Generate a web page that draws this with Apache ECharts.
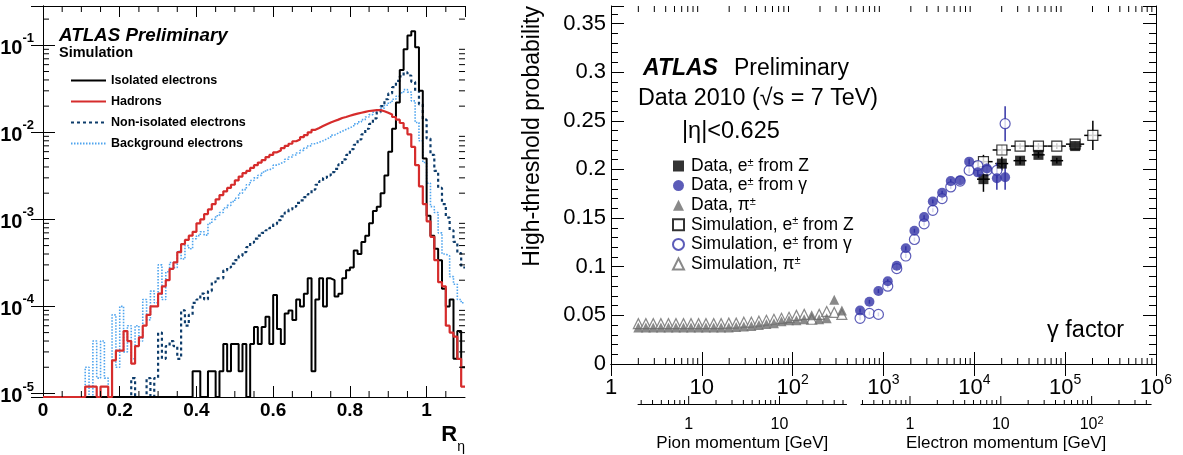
<!DOCTYPE html>
<html>
<head>
<meta charset="utf-8">
<script src="https://cdn.jsdelivr.net/npm/echarts@6.0.0/dist/echarts.min.js"></script>
<style>
html,body{margin:0;padding:0;background:#ffffff;}
#chart{width:1183px;height:455px;}
</style>
</head>
<body>
<div id="chart"></div>
<script>
// ================= LEFT PANEL: R_eta distributions =================
const rEtaBinWidth = 0.01;
const rEtaRange = [0, 1.1];
const rEtaTitle = 'R';
const leftLegendNames = ['Isolated electrons', 'Hadrons', 'Non-isolated electrons', 'Background electrons'];

const isolatedElectrons = [
  0,0,0,0,0,0,0,0,0,0,
  0,0,0,0,0,0,0,0,0,0,
  0,0,0,0,0,0,0,0,0,0,
  0,0,0,0,0,0,0,0,0,1.8e-5,
  1.8e-5,0,0,1.8e-5,1.8e-5,0,1.8e-5,3.7e-5,1.8e-5,3.7e-5,
  3.7e-5,1.8e-5,3.7e-5,0,3.7e-5,5.8e-5,3.7e-5,5.8e-5,7.6e-5,3.7e-5,
  1.35e-4,5.5e-5,3.7e-5,8.3e-5,9e-5,7e-5,1.2e-4,1.0e-4,1.4e-4,2.1e-4,
  1.8e-5,1.2e-4,2.1e-4,1.0e-4,2.1e-4,2.0e-4,1.3e-4,1.4e-4,2.1e-4,2.6e-4,
  2.8e-4,4.4e-4,4.0e-4,5.5e-4,6.5e-4,9e-4,1.25e-3,1.4e-3,2.0e-3,3.2e-3,
  6e-3,1.1e-2,2.2e-2,5.2e-2,9e-2,1.3e-1,1.45e-1,9.5e-2,3e-2,5e-3,
  1.1e-3,6.5e-4,4.6e-4,3.4e-4,1.6e-4,1.0e-4,1.2e-4,2.5e-5,5.2e-5,2e-5
];
const hadrons = [
  0,0,0,0,0,0,0,0,0,0,
  0,1.2e-5,1.2e-5,1.2e-5,0,1.2e-5,1.2e-5,0,2.4e-5,3.1e-5,
  3.1e-5,5.2e-5,4.0e-5,2.2e-5,3.5e-5,4.4e-5,6.0e-5,8.0e-5,1.0e-4,1.0e-4,
  1.4e-4,1.7e-4,2.0e-4,2.7e-4,3.2e-4,4.2e-4,5.2e-4,5.8e-4,6.5e-4,7.2e-4,
  9.0e-4,1.0e-3,1.15e-3,1.3e-3,1.5e-3,1.7e-3,1.9e-3,2.1e-3,2.3e-3,2.5e-3,
  2.8e-3,3.1e-3,3.4e-3,3.6e-3,3.9e-3,4.2e-3,4.5e-3,4.8e-3,5.2e-3,5.5e-3,
  5.9e-3,6.2e-3,6.6e-3,7.0e-3,7.4e-3,7.9e-3,8.3e-3,8.8e-3,9.3e-3,1.0e-2,
  1.07e-2,1.12e-2,1.18e-2,1.24e-2,1.3e-2,1.35e-2,1.4e-2,1.46e-2,1.5e-2,1.55e-2,
  1.6e-2,1.64e-2,1.68e-2,1.72e-2,1.76e-2,1.78e-2,1.8e-2,1.8e-2,1.75e-2,1.68e-2,
  1.6e-2,1.5e-2,1.4e-2,1.28e-2,1.12e-2,9.5e-3,6.8e-3,4.2e-3,2.4e-3,1.5e-3,
  9.5e-4,6.3e-4,3.4e-4,1.9e-4,1.7e-4,6e-5,5e-5,4.5e-5,2.5e-5,1.2e-5
];
const nonIsolatedElectrons = [
  0,0,0,0,0,0,0,0,0,0,
  0,0,0,0,0,0,0,0,0,0,
  0,0,0,1.5e-5,0,0,0,1.5e-5,0,1.5e-5,
  5e-5,2.5e-5,3.5e-5,4e-5,3.5e-5,2.5e-5,9e-5,6e-5,8e-5,1.1e-4,
  1.2e-4,1.4e-4,1.2e-4,1.5e-4,1.9e-4,2.1e-4,2.1e-4,2.6e-4,2.8e-4,3.1e-4,
  3.4e-4,3.8e-4,4.2e-4,4.8e-4,5.4e-4,6e-4,6.5e-4,7e-4,7.5e-4,8e-4,
  8.8e-4,9.8e-4,1.08e-3,1.2e-3,1.3e-3,1.4e-3,1.55e-3,1.65e-3,1.8e-3,1.95e-3,
  2.2e-3,2.5e-3,2.75e-3,3.0e-3,3.2e-3,3.5e-3,3.8e-3,4.3e-3,4.9e-3,5.5e-3,
  6.4e-3,7.2e-3,8.3e-3,9.5e-3,1.1e-2,1.25e-2,1.45e-2,1.7e-2,2.0e-2,2.4e-2,
  2.8e-2,3.3e-2,3.9e-2,4.4e-2,4.9e-2,4.5e-2,3.8e-2,3.0e-2,2.1e-2,1.4e-2,
  8.5e-3,5.5e-3,3.6e-3,2.3e-3,1.5e-3,1.05e-3,7.5e-4,5.5e-4,4.1e-4,2.8e-4
];
const backgroundElectrons = [
  0,0,0,0,0,0,0,0,0,0,
  0,2e-5,0,4e-5,1.5e-5,4e-5,1.5e-5,0,8e-5,2e-5,
  1e-4,3e-5,6e-5,2.5e-5,6e-5,4e-5,1.2e-4,7e-5,1.5e-4,1.1e-4,
  3e-4,1.2e-4,2.5e-4,3.2e-4,2.8e-4,4.3e-4,3.5e-4,5e-4,4.6e-4,6e-4,
  6.5e-4,7.2e-4,6.6e-4,9e-4,1.0e-3,1.1e-3,1.2e-3,1.35e-3,1.45e-3,1.6e-3,
  1.75e-3,2.0e-3,2.2e-3,2.5e-3,2.8e-3,3.0e-3,3.2e-3,3.5e-3,3.7e-3,3.9e-3,
  4.2e-3,4.4e-3,4.6e-3,4.9e-3,5.2e-3,5.5e-3,5.8e-3,6.2e-3,6.6e-3,7.0e-3,
  7.4e-3,7.7e-3,8.0e-3,8.4e-3,8.8e-3,9.3e-3,9.8e-3,1.03e-2,1.08e-2,1.13e-2,
  1.18e-2,1.25e-2,1.32e-2,1.4e-2,1.5e-2,1.6e-2,1.7e-2,1.8e-2,1.9e-2,2.05e-2,
  2.2e-2,2.4e-2,2.6e-2,2.85e-2,3.1e-2,2.9e-2,2.3e-2,1.3e-2,8e-3,4.5e-3,
  2.6e-3,1.4e-3,1.2e-3,7e-4,4e-4,3.8e-4,2.2e-4,1.8e-4,1.2e-4,1.1e-4
];

// ================= RIGHT PANEL: TRT high-threshold probability =================
const pionGamma = [2.0,2.42,2.92,3.54,4.29,5.19,6.28,7.6,9.2,11.1,13.5,16.3,19.8,23.9,
                   29.0,35.1,42.5,51.4,62.2,75.3,91.2,110,134,162,196,237,287,348];
const dataPion = [0.0375,0.0375,0.0375,0.0375,0.0375,0.0375,0.0375,0.0375,0.0375,0.0375,0.0375,0.0375,0.0375,
                  0.038,0.0385,0.039,0.040,0.041,0.042,0.044,0.045,0.045,0.046,0.050,0.046,0.047,0.066,0.055];
const simPion  = [0.0415,0.0415,0.0415,0.0415,0.0415,0.0415,0.0415,0.0415,0.0415,0.0415,0.0415,0.0415,
                  0.042,0.042,0.043,0.043,0.044,0.045,0.046,0.047,0.048,0.050,0.051,0.046,0.051,0.054,0.053,0.051];

const convGamma = [552,700,879,1114,1400,1760,2190,2800,3490,4420,5500,6980,8770,10920,13750,17700,21830];
const dataConv    = [0.055,0.064,0.075,0.085,0.101,0.119,0.137,0.151,0.167,0.176,0.188,0.189,0.208,0.197,0.201,0.191,0.192];
const dataConvErr = [0.002,0.002,0.002,0.002,0.002,0.002,0.002,0.002,0.002,0.002,0.002,0.002,0.003,0.004,0.006,0.012,0.013];
const simConv     = [0.047,0.052,0.051,0.080,0.098,0.111,0.128,0.144,0.158,0.170,0.182,0.188,0.199,0.204,0.199,0.199,0.247];
const simConvErr  = [0.002,0.002,0.002,0.002,0.002,0.002,0.002,0.002,0.002,0.002,0.002,0.002,0.003,0.004,0.006,0.008,0.018];

const zGammaData   = [12600,20100,31900,50800,80900,128800];
const dataZ        = [0.190,0.206,0.209,0.215,0.209,0.224];
const dataZErr     = [0.013,0.007,0.004,0.003,0.003,0.003];
const dataZGammaLo = [10700,17000,27000,43000,69000,110000];
const dataZGammaHi = [14800,23600,37500,59500,95000,151000];

const zGammaSim    = [12600,20100,31900,50800,80900,128800,201700];
const simZ         = [0.208,0.220,0.224,0.224,0.224,0.226,0.235];
const simZErr      = [0.007,0.005,0.003,0.003,0.003,0.003,0.015];
const simZGammaLo  = [10000,15900,25300,40300,64200,102000,162000];
const simZGammaHi  = [15900,25300,40300,64200,102000,162000,251000];

const rightLegendNames = ['Data, e± from Z','Data, e± from γ','Data, π±',
                          'Simulation, e± from Z','Simulation, e± from γ','Simulation, π±'];
const pionMass = 0.13957, electronMass = 0.000511;   // GeV
const pionMomRange = [0.277, 54.7];                  // GeV
const electronMomRange = [0.289, 452];               // GeV

// ================= LAYOUT / STYLE =================
const FONT = '"Liberation Sans", Arial, Helvetica, sans-serif';
const INK = '#000000';
const RED = '#d62c2c', DKBLUE = '#0d3c6b', LTBLUE = '#4ea4ee';
const BLUE = '#3333a6', GREY = '#6b6b6b';

const gL = {left: 43, top: 6, width: 422, height: 391};
const gR = {left: 611, top: 6, width: 545, height: 358};
const yLRange = [9.1e-6, 0.283];
const xRRange = [1, 1e6];
const yRRange = [0, 0.368];

function momentumGrid(range, mass) {
  const span = Math.log10(xRRange[1]) - Math.log10(xRRange[0]);
  const a = Math.log10(range[0] / mass), b = Math.log10(range[1] / mass);
  return {left: gR.left + gR.width * a / span, width: gR.width * (b - a) / span, top: 394, height: 10};
}

function logTicks(lo, hi) {  // [value, 0, isMajor]
  const out = [];
  for (let k = Math.floor(Math.log10(lo)); k <= Math.ceil(Math.log10(hi)); k++) {
    for (let m = 1; m <= 9; m++) {
      const v = m * Math.pow(10, k);
      if (v >= lo * 0.9999 && v <= hi * 1.0001) out.push([v, 0, m === 1 ? 1 : 0]);
    }
  }
  return out;
}

function histData(vals) {
  const pts = vals.map((v, i) => [rEtaRange[0] + i * rEtaBinWidth, Math.max(v, yLRange[0])]);
  pts.push([rEtaRange[1], Math.max(vals[vals.length - 1], yLRange[0])]);
  return pts;
}

function decadeLabel(v, plainUpTo) {
  const e = Math.log10(v), r = Math.round(e);
  if (Math.abs(e - r) > 1e-6) return '';
  if (r <= plainUpTo) return '{m|' + Math.pow(10, r) + '}';
  return '{m|10}{p|' + r + '}';
}

const lineTick = (x1, y1, x2, y2, w) => ({type: 'line', shape: {x1, y1, x2, y2}, style: {stroke: INK, lineWidth: w || 1}});

function errorBars(color) {
  return (params, api) => {
    const x = api.value(0), y = api.value(1);
    const a = api.coord([api.value(2), y]), b = api.coord([api.value(3), y]);
    const c = api.coord([x, api.value(4)]), d = api.coord([x, api.value(5)]);
    return {type: 'group', children: [
      {type: 'line', shape: {x1: a[0], y1: a[1], x2: b[0], y2: b[1]}, style: {stroke: color, lineWidth: 1.5}},
      {type: 'line', shape: {x1: c[0], y1: c[1], x2: d[0], y2: d[1]}, style: {stroke: color, lineWidth: 1.5}}
    ]};
  };
}

const pionGrid = momentumGrid(pionMomRange, pionMass);
const elecGrid = momentumGrid(electronMomRange, electronMass);

const axisLineStyle = {show: true, lineStyle: {color: INK, width: 1}};
const noLabel = {show: false};
const openMarker = c => ({color: '#ffffff', borderColor: c, borderWidth: 1.2});

const option = {
  animation: false,
  backgroundColor: '#ffffff',
  grid: [
    Object.assign({containLabel: false, outerBoundsMode: 'none'}, gL),
    Object.assign({containLabel: false, outerBoundsMode: 'none'}, gR),
    Object.assign({containLabel: false, outerBoundsMode: 'none'}, pionGrid),
    Object.assign({containLabel: false, outerBoundsMode: 'none'}, elecGrid)
  ],
  xAxis: [
    {gridIndex: 0, type: 'value', min: rEtaRange[0], max: rEtaRange[1], interval: 0.2, position: 'bottom',
     axisLine: axisLineStyle, axisTick: {inside: true, length: 11, lineStyle: {color: INK}}, splitLine: {show: false},
     axisLabel: {showMaxLabel: false, margin: 4, color: INK, fontSize: 19, fontWeight: 'bold', fontFamily: FONT}},
    {gridIndex: 0, type: 'value', min: rEtaRange[0], max: rEtaRange[1], interval: 0.2, position: 'top',
     axisLine: axisLineStyle, axisTick: {inside: true, length: 11, lineStyle: {color: INK}}, splitLine: {show: false}, axisLabel: noLabel},
    {gridIndex: 1, type: 'log', min: xRRange[0], max: xRRange[1], position: 'bottom',
     axisLine: axisLineStyle, axisTick: {inside: true, length: 12, lineStyle: {color: INK}}, splitLine: {show: false},
     axisLabel: {margin: 9, color: INK, fontFamily: FONT, formatter: v => decadeLabel(v, 1),
       rich: {m: {fontSize: 22, fontFamily: FONT, color: INK, lineHeight: 26, verticalAlign: 'bottom'},
              p: {fontSize: 14, fontFamily: FONT, color: INK, lineHeight: 14, verticalAlign: 'top'}}}},
    {gridIndex: 1, type: 'log', min: xRRange[0], max: xRRange[1], position: 'top',
     axisLine: axisLineStyle, axisTick: {inside: true, length: 12, lineStyle: {color: INK}}, splitLine: {show: false}, axisLabel: noLabel},
    {gridIndex: 2, type: 'log', min: pionMomRange[0], max: pionMomRange[1], position: 'bottom',
     axisLine: axisLineStyle, axisTick: {show: false}, splitLine: {show: false},
     name: 'Pion momentum [GeV]', nameLocation: 'middle', nameGap: 31,
     nameTextStyle: {fontSize: 17, fontFamily: FONT, color: INK},
     axisLabel: {margin: 11, showMinLabel: false, showMaxLabel: false, formatter: v => decadeLabel(v, 1),
       rich: {m: {fontSize: 16, fontFamily: FONT, color: INK, lineHeight: 18, verticalAlign: 'bottom'},
              p: {fontSize: 11, fontFamily: FONT, color: INK, lineHeight: 11, verticalAlign: 'top'}}}},
    {gridIndex: 3, type: 'log', min: electronMomRange[0], max: electronMomRange[1], position: 'bottom',
     axisLine: axisLineStyle, axisTick: {show: false}, splitLine: {show: false},
     name: 'Electron momentum [GeV]', nameLocation: 'middle', nameGap: 31,
     nameTextStyle: {fontSize: 17, fontFamily: FONT, color: INK},
     axisLabel: {margin: 11, showMinLabel: false, showMaxLabel: false, formatter: v => decadeLabel(v, 1),
       rich: {m: {fontSize: 16, fontFamily: FONT, color: INK, lineHeight: 18, verticalAlign: 'bottom'},
              p: {fontSize: 11, fontFamily: FONT, color: INK, lineHeight: 11, verticalAlign: 'top'}}}}
  ],
  yAxis: [
    {gridIndex: 0, type: 'log', min: yLRange[0], max: yLRange[1], position: 'left',
     axisLine: axisLineStyle, axisTick: {inside: true, length: 12, lineStyle: {color: INK}}, splitLine: {show: false},
     axisLabel: {margin: 9, formatter: v => { const e = Math.log10(v), r = Math.round(e); return Math.abs(e - r) > 1e-6 ? '' : '{m|10}{p|' + r + '}'; },
       rich: {m: {fontSize: 20, fontWeight: 'bold', fontFamily: FONT, color: INK, lineHeight: 26, verticalAlign: 'bottom'},
              p: {fontSize: 13, fontWeight: 'bold', fontFamily: FONT, color: INK, lineHeight: 13, verticalAlign: 'top'}}}},
    {gridIndex: 0, type: 'log', min: yLRange[0], max: yLRange[1], position: 'right',
     axisLine: axisLineStyle, axisTick: {inside: true, length: 12, lineStyle: {color: INK}}, splitLine: {show: false}, axisLabel: noLabel},
    {gridIndex: 1, type: 'value', min: yRRange[0], max: yRRange[1], interval: 0.05, position: 'left',
     axisLine: axisLineStyle, axisTick: {inside: true, length: 13, lineStyle: {color: INK}},
     minorTick: {show: true, splitNumber: 5, length: 7, lineStyle: {color: INK}}, splitLine: {show: false}, minorSplitLine: {show: false},
     axisLabel: {showMaxLabel: false, margin: 5, color: INK, fontSize: 22, fontFamily: FONT}},
    {gridIndex: 1, type: 'value', min: yRRange[0], max: yRRange[1], interval: 0.05, position: 'right',
     axisLine: axisLineStyle, axisTick: {inside: true, length: 13, lineStyle: {color: INK}},
     minorTick: {show: true, splitNumber: 5, length: 7, lineStyle: {color: INK}}, splitLine: {show: false}, minorSplitLine: {show: false}, axisLabel: noLabel},
    {gridIndex: 2, type: 'value', min: 0, max: 1, show: false},
    {gridIndex: 3, type: 'value', min: 0, max: 1, show: false}
  ],
  legend: [
    {orient: 'vertical', left: 65, top: 69, itemWidth: 35, itemHeight: 14, itemGap: 8, selectedMode: false,
     itemStyle: {opacity: 0},
     data: leftLegendNames, textStyle: {fontSize: 12.5, fontWeight: 'bold', fontFamily: FONT, color: INK}},
    {orient: 'vertical', left: 667, top: 152, itemWidth: 11, itemHeight: 11, itemGap: 1.6, selectedMode: false,
     data: rightLegendNames,
     formatter: n => n.replace('±', '{s|±}'),
     textStyle: {fontSize: 17.5, fontFamily: FONT, color: INK, lineHeight: 18, padding: [0, 0, 0, 2],
       rich: {s: {fontSize: 11, fontFamily: FONT, color: INK, lineHeight: 18, verticalAlign: 'top'}}}}
  ],
  series: [
    // ---- left histograms ----
    {name: leftLegendNames[3], type: 'line', xAxisIndex: 0, yAxisIndex: 0, step: 'end', symbol: 'none', z: 3,
     lineStyle: {color: LTBLUE, width: 1.6, type: [1.5, 1.5]}, itemStyle: {color: LTBLUE}, data: histData(backgroundElectrons)},
    {name: leftLegendNames[2], type: 'line', xAxisIndex: 0, yAxisIndex: 0, step: 'end', symbol: 'none', z: 4,
     lineStyle: {color: DKBLUE, width: 2.2, type: [3, 3]}, itemStyle: {color: DKBLUE}, data: histData(nonIsolatedElectrons)},
    {name: leftLegendNames[0], type: 'line', xAxisIndex: 0, yAxisIndex: 0, step: 'end', symbol: 'none', z: 5,
     lineStyle: {color: INK, width: 2}, itemStyle: {color: INK}, data: histData(isolatedElectrons)},
    {name: leftLegendNames[1], type: 'line', xAxisIndex: 0, yAxisIndex: 0, step: 'end', symbol: 'none', z: 6,
     lineStyle: {color: RED, width: 2.2}, itemStyle: {color: RED}, data: histData(hadrons)},
    // ---- left panel minor ticks ----
    {type: 'custom', xAxisIndex: 0, yAxisIndex: 0, silent: true, z: 10, clip: false,
     data: logTicks(yLRange[0], yLRange[1]).filter(t => !t[2]).map(t => [rEtaRange[0], t[0]]),
     renderItem: (p, api) => { const v = api.value(1); const a = api.coord([rEtaRange[0], v]), b = api.coord([rEtaRange[1], v]);
       return {type: 'group', children: [lineTick(a[0], a[1], a[0] + 6, a[1]), lineTick(b[0] - 6, b[1], b[0], b[1])]}; }},
    {type: 'custom', xAxisIndex: 0, yAxisIndex: 0, silent: true, z: 10, clip: false,
     data: [0.05,0.1,0.15,0.25,0.3,0.35,0.45,0.5,0.55,0.65,0.7,0.75,0.85,0.9,0.95,1.05].map(v => [v, yLRange[0]]),
     renderItem: (p, api) => { const v = api.value(0); const a = api.coord([v, yLRange[0]]), b = api.coord([v, yLRange[1]]);
       return {type: 'group', children: [lineTick(a[0], a[1], a[0], a[1] - 6), lineTick(b[0], b[1], b[0], b[1] + 6)]}; }},
    // ---- right panel minor log ticks ----
    {type: 'custom', xAxisIndex: 2, yAxisIndex: 2, silent: true, z: 10, clip: false,
     data: logTicks(xRRange[0], xRRange[1]).filter(t => !t[2]),
     renderItem: (p, api) => { const v = api.value(0); const a = api.coord([v, yRRange[0]]), b = api.coord([v, yRRange[1]]);
       return {type: 'group', children: [lineTick(a[0], a[1], a[0], a[1] - 6), lineTick(b[0], b[1], b[0], b[1] + 6)]}; }},
    // ---- momentum axes ticks ----
    {type: 'custom', xAxisIndex: 4, yAxisIndex: 4, silent: true, z: 10, clip: false,
     data: logTicks(pionMomRange[0], pionMomRange[1]),
     renderItem: (p, api) => { const a = api.coord([api.value(0), 0]); const L = api.value(2) ? 8 : 4;
       return lineTick(a[0], a[1], a[0], a[1] - L); }},
    {type: 'custom', xAxisIndex: 5, yAxisIndex: 5, silent: true, z: 10, clip: false,
     data: logTicks(electronMomRange[0], electronMomRange[1]),
     renderItem: (p, api) => { const a = api.coord([api.value(0), 0]); const L = api.value(2) ? 8 : 4;
       return lineTick(a[0], a[1], a[0], a[1] - L); }},
    // ---- error bars ----
    {type: 'custom', xAxisIndex: 2, yAxisIndex: 2, silent: true, z: 4, renderItem: errorBars(INK),
     data: zGammaSim.map((g, i) => [g, simZ[i], simZGammaLo[i], simZGammaHi[i], simZ[i] - simZErr[i], simZ[i] + simZErr[i]])},
    {type: 'custom', xAxisIndex: 2, yAxisIndex: 2, silent: true, z: 4, renderItem: errorBars(INK),
     data: zGammaData.map((g, i) => [g, dataZ[i], dataZGammaLo[i], dataZGammaHi[i], dataZ[i] - dataZErr[i], dataZ[i] + dataZErr[i]])},
    {type: 'custom', xAxisIndex: 2, yAxisIndex: 2, silent: true, z: 4, renderItem: errorBars(BLUE),
     data: convGamma.map((g, i) => [g, simConv[i], g, g, simConv[i] - simConvErr[i], simConv[i] + simConvErr[i]])},
    {type: 'custom', xAxisIndex: 2, yAxisIndex: 2, silent: true, z: 4, renderItem: errorBars(BLUE),
     data: convGamma.map((g, i) => [g, dataConv[i], g, g, dataConv[i] - dataConvErr[i], dataConv[i] + dataConvErr[i]])},
    // ---- markers (simulation first, data on top) ----
    {name: rightLegendNames[5], type: 'scatter', xAxisIndex: 2, yAxisIndex: 2, symbol: 'triangle', symbolSize: 10, z: 5,
     itemStyle: openMarker(GREY), data: pionGamma.map((g, i) => [g, simPion[i]])},
    {name: rightLegendNames[3], type: 'scatter', xAxisIndex: 2, yAxisIndex: 2, symbol: 'rect', symbolSize: 10, z: 5,
     itemStyle: openMarker(INK), data: zGammaSim.map((g, i) => [g, simZ[i]])},
    {name: rightLegendNames[4], type: 'scatter', xAxisIndex: 2, yAxisIndex: 2, symbol: 'circle', symbolSize: 10, z: 5,
     itemStyle: openMarker(BLUE), data: convGamma.map((g, i) => [g, simConv[i]])},
    {name: rightLegendNames[2], type: 'scatter', xAxisIndex: 2, yAxisIndex: 2, symbol: 'triangle', symbolSize: 10, z: 6,
     itemStyle: {color: GREY}, data: pionGamma.map((g, i) => [g, dataPion[i]])},
    {name: rightLegendNames[0], type: 'scatter', xAxisIndex: 2, yAxisIndex: 2, symbol: 'rect', symbolSize: 10, z: 6,
     itemStyle: {color: INK}, data: zGammaData.map((g, i) => [g, dataZ[i]])},
    {name: rightLegendNames[1], type: 'scatter', xAxisIndex: 2, yAxisIndex: 2, symbol: 'circle', symbolSize: 10, z: 6,
     itemStyle: {color: BLUE}, data: convGamma.map((g, i) => [g, dataConv[i]])}
  ],
  graphic: {elements: [
    {type: 'text', x: 59, y: 26, silent: true, style: {text: 'ATLAS Preliminary', fontSize: 18.8, fontWeight: 'bold', fontStyle: 'italic', fontFamily: FONT, fill: INK}},
    {type: 'text', x: 59, y: 45, silent: true, style: {text: 'Simulation', fontSize: 14.5, fontWeight: 'bold', fontFamily: FONT, fill: INK}},
    {type: 'text', x: 465, y: 424, silent: true, style: {text: '{r|' + rEtaTitle + '}{s|η}', align: 'right',
      rich: {r: {fontSize: 22, fontWeight: 'bold', fontFamily: FONT, fill: INK, lineHeight: 26, verticalAlign: 'top'},
             s: {fontSize: 14, fontFamily: FONT, fill: INK, lineHeight: 30, verticalAlign: 'bottom'}}}},
    {type: 'text', x: 533, y: 6, rotation: Math.PI / 2, silent: true,
     style: {text: 'High-threshold probability', fontSize: 23, fontFamily: FONT, fill: INK, align: 'right', verticalAlign: 'middle'}},
    {type: 'text', x: 643, y: 57, silent: true, style: {text: 'ATLAS', fontSize: 23, fontWeight: 'bold', fontStyle: 'italic', fontFamily: FONT, fill: INK}},
    {type: 'text', x: 734, y: 57, silent: true, style: {text: 'Preliminary', fontSize: 23, fontFamily: FONT, fill: INK}},
    {type: 'text', x: 638, y: 87, silent: true, style: {text: 'Data 2010 (√s = 7 TeV)', fontSize: 23.3, fontFamily: FONT, fill: INK}},
    {type: 'text', x: 682, y: 120, silent: true, style: {text: '|η|<0.625', fontSize: 23.5, fontFamily: FONT, fill: INK}},
    {type: 'text', x: 1047, y: 319, silent: true, style: {text: 'γ factor', fontSize: 23.5, fontFamily: FONT, fill: INK}}
  ]}
};

const chart = echarts.init(document.getElementById('chart'), null, {renderer: 'canvas'});
chart.setOption(option);
</script>
</body>
</html>
